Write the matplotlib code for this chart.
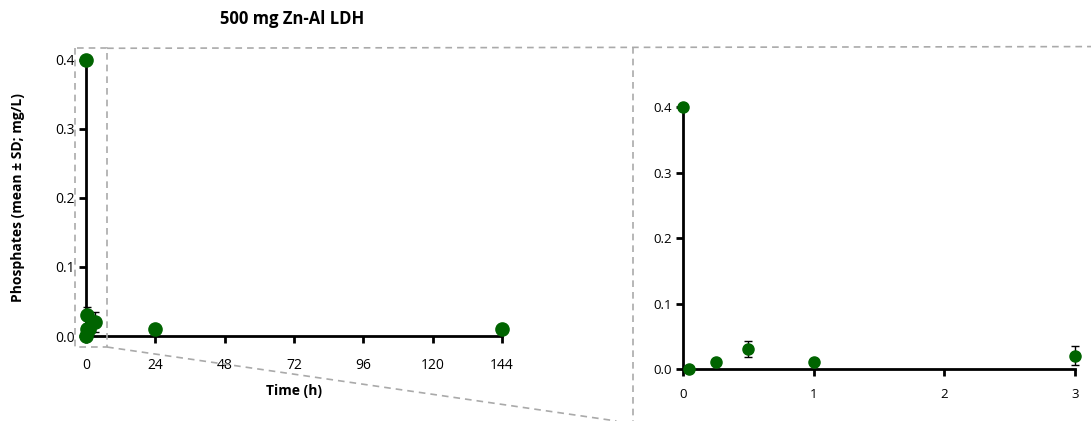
import matplotlib
matplotlib.use("Agg")
import matplotlib.pyplot as plt
from matplotlib.lines import Line2D

plt.rcParams['font.family'] = ['Open Sans', 'DejaVu Sans']

# Data: phosphates release, 500 mg Zn-Al LDH
time_h = [0, 0.05, 0.25, 0.5, 1, 3, 24, 144]
phos = [0.40, 0.0, 0.01, 0.03, 0.01, 0.02, 0.01, 0.01]
phos_sd = [0, 0, 0, 0.012, 0, 0.0145, 0, 0]

left_xticks = [0, 24, 48, 72, 96, 120, 144]
right_xticks = [0, 1, 2, 3]
yticks = [0.0, 0.1, 0.2, 0.3, 0.4]

GREEN = '#006400'
GREY = '#aaaaaa'


def style_axes(ax, size):
    for side in ['top', 'right']:
        ax.spines[side].set_visible(False)
    for side in ['left', 'bottom']:
        ax.spines[side].set_linewidth(2)
    ax.tick_params(width=2, length=5, labelsize=size, pad=3)
    ax.set_yticks(yticks)
    ax.set_yticklabels([f"{v:.1f}" for v in yticks])
    ax.set_ylim(0, 0.4)
    ax.patch.set_alpha(0)


fig = plt.figure(figsize=(10.91, 4.21), dpi=100)

# Main panel
ax1 = fig.add_axes([0.0788, 0.2019, 0.3813, 0.6556])
ax1.errorbar(time_h, phos, yerr=phos_sd, fmt='o', color=GREEN, ms=9.5,
             ecolor='black', elinewidth=1, capsize=3, clip_on=False, zorder=3)
style_axes(ax1, 10)
ax1.set_xlim(0, 144)
ax1.set_xticks(left_xticks)
ax1.tick_params(axis='x', pad=11)
ax1.set_xlabel("Time (h)", fontsize=10, fontweight='bold', labelpad=8)
ax1.set_ylabel("Phosphates (mean ± SD; mg/L)", fontsize=10, fontweight='bold', labelpad=22)
fig.text(0.268, 0.955, "500 mg Zn-Al LDH", ha='center', va='center',
         fontsize=12, fontweight='bold')

# Zoomed panel
ax2 = fig.add_axes([0.626, 0.1235, 0.3593, 0.6223])
ax2.errorbar(time_h, phos, yerr=phos_sd, fmt='o', color=GREEN, ms=8,
             ecolor='black', elinewidth=1, capsize=3, clip_on=False, zorder=3)
style_axes(ax2, 9.5)
ax2.set_xlim(0, 3)
ax2.set_xticks(right_xticks)
ax2.tick_params(axis='x', pad=9)

# Zoom region (data coords of main panel) and connector lines
zoom_x = (-3.8, 7.3)
zoom_y = (-0.016, 0.417)
fig.canvas.draw()
to_fig = fig.transFigure.inverted()
(x0, y0) = to_fig.transform(ax1.transData.transform((zoom_x[0], zoom_y[0])))
(x1, y1) = to_fig.transform(ax1.transData.transform((zoom_x[1], zoom_y[1])))

dash = dict(color=GREY, lw=1.2, ls=(0, (4, 3)), transform=fig.transFigure)
box_left = 0.580
fig.add_artist(Line2D([x0, x0, x1, x1, x0], [y1, y0, y0, y1, y1], **dash))
fig.add_artist(Line2D([x1, 1.0], [y1, y1 + 0.004], **dash))
fig.add_artist(Line2D([box_left, box_left], [y1 + 0.002, 0.0], **dash))
fig.add_artist(Line2D([x1, 0.565], [y0, 0.0], **dash))

fig.savefig("out.png", dpi=100)
